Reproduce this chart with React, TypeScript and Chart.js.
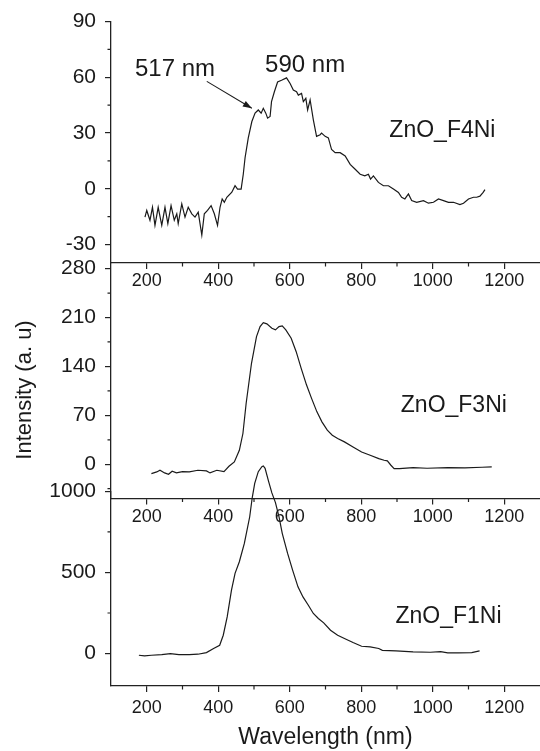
import React, { useEffect, useRef } from 'react';
import { Chart, registerables } from 'chart.js';

Chart.register(...registerables);

const FONT = '"Liberation Sans", Arial, Helvetica, sans-serif';
const INK = '#1a1a1a';
const AXIS = '#222222';

// ---- shared x axis ----
const X_MIN = 100;
const X_MAX = 1300;
const X_TICKS = [200, 400, 600, 800, 1000, 1200];
const X_MINOR = [300, 500, 700, 900, 1100];

// ---- ZnO_F4Ni (top) ----
const F4_WL = [195, 200, 209, 216, 223, 232, 242, 251, 259, 268, 277, 284, 288, 298, 307, 316, 326, 335, 344, 354, 361, 370, 380, 389, 398, 405, 411, 417, 424, 438, 447, 454, 464, 470, 475, 484, 494, 503, 512, 520, 526, 533, 538, 545, 549, 557, 566, 577, 591, 601, 610, 619, 624, 633, 638, 645, 650, 657, 666, 675, 685, 689, 699, 708, 717, 727, 741, 755, 769, 783, 797, 810, 820, 826, 834, 848, 862, 876, 890, 904, 913, 922, 932, 941, 955, 974, 988, 1002, 1016, 1030, 1044, 1058, 1076, 1086, 1100, 1114, 1123, 1132, 1141, 1146];
const F4_I = [-15.3, -11.7, -17.0, -10.0, -19.7, -10.0, -19.7, -10.0, -18.8, -9.1, -17.0, -13.5, -18.8, -8.2, -15.3, -10.0, -13.5, -15.3, -12.6, -25.0, -13.5, -11.7, -9.1, -13.5, -19.7, -10.0, -5.5, -7.3, -4.6, -1.9, 1.6, -0.2, -0.2, 7.8, 16.7, 27.4, 36.2, 40.7, 42.4, 40.7, 43.3, 40.7, 38.0, 38.9, 46.9, 52.2, 57.5, 58.4, 59.7, 56.7, 53.1, 52.2, 50.4, 51.3, 46.9, 48.7, 42.4, 47.8, 37.1, 28.2, 29.1, 30.0, 28.2, 27.4, 21.1, 19.4, 19.4, 17.6, 13.1, 10.5, 7.8, 6.9, 7.8, 5.2, 6.9, 3.4, 1.6, 1.6, -0.2, -2.0, -4.6, -5.5, -2.8, -6.4, -7.3, -6.4, -7.8, -7.3, -5.5, -6.4, -7.3, -7.3, -8.5, -7.8, -5.5, -4.6, -4.6, -4.0, -2.0, -0.5];
const F4_Y_TICKS = [-30, 0, 30, 60, 90];
const F4_Y_MINOR = [-15, 15, 45, 75];

// ---- ZnO_F3Ni (middle) ----
const F3_WL = [213, 228, 237, 250, 261, 271, 283, 300, 319, 343, 367, 377, 396, 416, 430, 445, 459, 469, 478, 493, 507, 517, 526, 536, 550, 560, 570, 579, 589, 604, 618, 632, 647, 661, 676, 690, 705, 719, 734, 753, 777, 801, 825, 849, 864, 873, 883, 892, 907, 945, 984, 1042, 1090, 1138, 1165];
const F3_I = [-13.4, -11, -8.6, -12.4, -14.3, -10, -12.4, -10.5, -11, -8.6, -9.5, -12.4, -8.6, -10.5, -2.9, 3.3, 20, 44, 87, 144.5, 182.6, 197, 202.7, 200.9, 194.7, 192.3, 197, 198, 192.3, 180.3, 161.1, 137.3, 113.3, 94.3, 75, 60.7, 48.8, 41.6, 36.9, 32, 24.8, 17.6, 12.9, 8.1, 5.7, 4.8, -1.4, -6.2, -6.2, -4.8, -5.7, -4.8, -5.2, -4.3, -3.8];
const F3_Y_TICKS = [0, 70, 140, 210, 280];
const F3_Y_MINOR = [-35, 35, 105, 175, 245];

// ---- ZnO_F1Ni (bottom) ----
const F1_WL = [178, 194, 213, 242, 266, 290, 319, 343, 367, 387, 404, 414, 425, 437, 447, 459, 473, 488, 495, 502, 512, 522, 526, 531, 541, 550, 560, 570, 579, 594, 608, 623, 637, 652, 666, 680, 695, 714, 734, 753, 777, 801, 825, 849, 859, 897, 945, 993, 1022, 1042, 1071, 1109, 1131];
const F1_I = [-10.5, -14.4, -10.5, -6.4, 0, -6.4, -6.4, -4.1, 6, 31, 51, 113, 226, 391, 494, 566, 679, 843, 960, 1049, 1121, 1152, 1156, 1142, 1060, 990, 930, 843, 741, 617, 514, 411, 349, 298, 247, 216, 189, 144, 113, 93, 68, 45, 41, 31, 20, 16, 10, 8, 12, 4, 4, 6, 16];
const F1_Y_TICKS = [0, 500, 1000];
const F1_Y_MINOR = [250, 750];

const minorTicksPlugin = {
  id: 'minorTicks',
  afterDraw(chart: any, _args: any, opts: any) {
    const { ctx } = chart;
    const xs = chart.scales.x;
    const ys = chart.scales.y;
    ctx.save();
    ctx.strokeStyle = AXIS;
    ctx.lineWidth = 1.2;
    ctx.beginPath();
    for (const v of opts.x || []) {
      const px = xs.getPixelForValue(v);
      ctx.moveTo(px, xs.top);
      ctx.lineTo(px, xs.top + 3.5);
    }
    for (const v of opts.y || []) {
      const py = ys.getPixelForValue(v);
      ctx.moveTo(ys.right, py);
      ctx.lineTo(ys.right - 3.5, py);
    }
    ctx.stroke();
    ctx.restore();
  },
};

const notesPlugin = {
  id: 'notes',
  afterDraw(chart: any, _args: any, opts: any) {
    const { ctx } = chart;
    const xs = chart.scales.x;
    const ys = chart.scales.y;
    ctx.save();
    ctx.fillStyle = INK;
    for (const t of opts.texts || []) {
      ctx.font = `${t.size}px ${FONT}`;
      ctx.textAlign = 'center';
      ctx.textBaseline = 'alphabetic';
      ctx.fillText(t.text, xs.getPixelForValue(t.x), ys.getPixelForValue(t.y));
    }
    if (opts.arrow) {
      const a = opts.arrow;
      const x0 = xs.getPixelForValue(a.x0);
      const y0 = ys.getPixelForValue(a.y0);
      const x1 = xs.getPixelForValue(a.x1);
      const y1 = ys.getPixelForValue(a.y1);
      ctx.strokeStyle = INK;
      ctx.lineWidth = 1.1;
      ctx.beginPath();
      ctx.moveTo(x0, y0);
      ctx.lineTo(x1, y1);
      ctx.stroke();
      const ang = Math.atan2(y1 - y0, x1 - x0);
      const L = 9;
      const W = 3.2;
      ctx.beginPath();
      ctx.moveTo(x1, y1);
      ctx.lineTo(x1 - L * Math.cos(ang) + W * Math.sin(ang), y1 - L * Math.sin(ang) - W * Math.cos(ang));
      ctx.lineTo(x1 - L * Math.cos(ang) - W * Math.sin(ang), y1 - L * Math.sin(ang) + W * Math.cos(ang));
      ctx.closePath();
      ctx.fill();
    }
    if (opts.yTitle) {
      const t = opts.yTitle;
      ctx.translate(t.px, t.py);
      ctx.rotate(-Math.PI / 2);
      ctx.font = `${t.size}px ${FONT}`;
      ctx.textAlign = 'center';
      ctx.textBaseline = 'middle';
      ctx.fillText(t.text, 0, 0);
    }
    ctx.restore();
  },
};

type PanelSpec = {
  wl: number[];
  vals: number[];
  yMin: number;
  yMax: number;
  yTicks: number[];
  yMinor: number[];
  padTop: number;
  xAxisHeight: number;
  xLabelPad: number;
  clip: boolean;
  notes: any;
  xTitle?: string;
};

function makeConfig(p: PanelSpec): any {
  return {
    type: 'line',
    data: {
      datasets: [
        {
          data: p.wl.map((w, i) => ({ x: w, y: p.vals[i] })),
          borderColor: INK,
          borderWidth: 1.2,
          pointRadius: 0,
          tension: 0,
          fill: false,
          clip: p.clip ? 0 : false,
        },
      ],
    },
    options: {
      animation: false,
      responsive: false,
      devicePixelRatio: 1,
      layout: { padding: { top: p.padTop, left: 0, right: 0, bottom: 0 } },
      plugins: {
        legend: { display: false },
        tooltip: { enabled: false },
        minorTicks: { x: X_MINOR, y: p.yMinor },
        notes: p.notes,
      },
      scales: {
        x: {
          type: 'linear',
          position: 'bottom',
          min: X_MIN,
          max: X_MAX,
          afterBuildTicks: (s: any) => {
            s.ticks = X_TICKS.map((v) => ({ value: v }));
          },
          afterFit: (s: any) => {
            s.height = p.xAxisHeight;
          },
          grid: {
            display: true,
            drawOnChartArea: false,
            drawTicks: true,
            tickLength: 6,
            color: AXIS,
            lineWidth: 1.2,
          },
          border: { display: true, color: AXIS, width: 1.3 },
          ticks: {
            color: INK,
            font: { family: FONT, size: 18 },
            padding: p.xLabelPad,
            autoSkip: false,
            maxRotation: 0,
            callback: (v: any) => String(v),
          },
          title: p.xTitle
            ? {
                display: true,
                text: p.xTitle,
                color: INK,
                font: { family: FONT, size: 23 },
                padding: { top: 0, bottom: 0 },
              }
            : { display: false },
        },
        y: {
          type: 'linear',
          position: 'left',
          min: p.yMin,
          max: p.yMax,
          afterBuildTicks: (s: any) => {
            s.ticks = p.yTicks.map((v) => ({ value: v }));
          },
          afterFit: (s: any) => {
            s.width = 111;
          },
          grid: {
            display: true,
            drawOnChartArea: false,
            drawTicks: true,
            tickLength: 6,
            color: AXIS,
            lineWidth: 1.2,
          },
          border: { display: true, color: AXIS, width: 1.3 },
          ticks: {
            color: INK,
            font: { family: FONT, size: 21 },
            padding: 9,
            autoSkip: false,
            callback: (v: any) => String(v),
          },
        },
      },
    },
    plugins: [minorTicksPlugin, notesPlugin],
  };
}

function Panel({ top, height, spec }: { top: number; height: number; spec: PanelSpec }) {
  const ref = useRef<HTMLCanvasElement | null>(null);
  useEffect(() => {
    if (!ref.current) return;
    const chart = new Chart(ref.current, makeConfig(spec));
    return () => chart.destroy();
  }, []);
  return (
    <canvas
      ref={ref}
      width={540}
      height={height}
      style={{ position: 'absolute', left: 0, top, width: 540, height }}
    />
  );
}

const TOP_SPEC: PanelSpec = {
  wl: F4_WL,
  vals: F4_I,
  yMin: -40,
  yMax: 90,
  yTicks: F4_Y_TICKS,
  yMinor: F4_Y_MINOR,
  padTop: 19,
  xAxisHeight: 37,
  xLabelPad: 1,
  clip: true,
  notes: {
    texts: [
      { text: '517 nm', x: 279, y: 60.7, size: 24 },
      { text: '590 nm', x: 643, y: 62.9, size: 24 },
      { text: 'ZnO_F4Ni', x: 1027, y: 27.7, size: 23 },
    ],
    arrow: { x0: 368, y0: 57.8, x1: 494, y1: 43.3 },
  },
};

const MID_SPEC: PanelSpec = {
  wl: F3_WL,
  vals: F3_I,
  yMin: -49,
  yMax: 288,
  yTicks: F3_Y_TICKS,
  yMinor: F3_Y_MINOR,
  padTop: 23,
  xAxisHeight: 41.5,
  xLabelPad: 2,
  clip: true,
  notes: {
    texts: [{ text: 'ZnO_F3Ni', x: 1059, y: 75, size: 23 }],
    yTitle: { text: 'Intensity (a. u)', px: 25, py: 150, size: 22 },
  },
};

const BOT_SPEC: PanelSpec = {
  wl: F1_WL,
  vals: F1_I,
  yMin: -200,
  yMax: 1000,
  yTicks: F1_Y_TICKS,
  yMinor: F1_Y_MINOR,
  padTop: 51.3,
  xAxisHeight: 65,
  xLabelPad: 5,
  clip: false,
  notes: {
    texts: [{ text: 'ZnO_F1Ni', x: 1044, y: 189, size: 23 }],
  },
  xTitle: 'Wavelength (nm)',
};

export default function App() {
  return (
    <div
      style={{
        position: 'absolute',
        left: 0,
        top: 0,
        width: 540,
        height: 751,
        background: '#ffffff',
        overflow: 'hidden',
      }}
    >
      <Panel top={0} height={300} spec={TOP_SPEC} />
      <Panel top={240} height={300} spec={MID_SPEC} />
      <Panel top={440} height={311} spec={BOT_SPEC} />
    </div>
  );
}
